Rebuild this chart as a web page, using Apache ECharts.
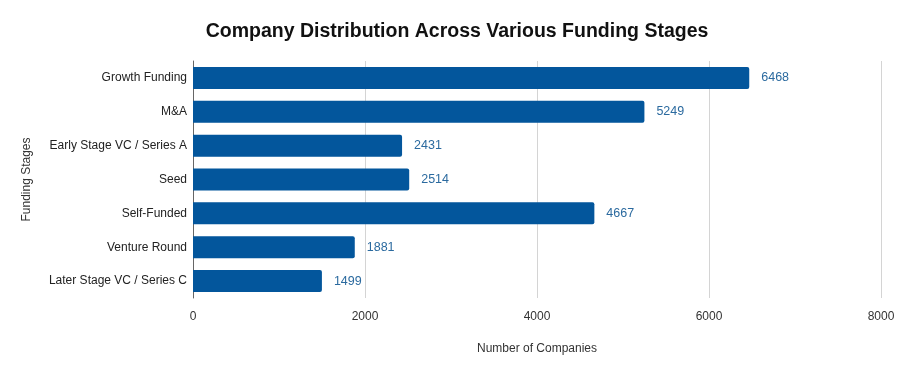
<!DOCTYPE html>
<html><head><meta charset="utf-8">
<script src="https://cdn.jsdelivr.net/npm/echarts@6/dist/echarts.min.js"></script>
<style>html,body{margin:0;padding:0;background:#fff}#c{width:900px;height:374px}</style>
</head><body><div id="c"></div>
<script>
const categories = ["Growth Funding","M&A","Early Stage VC / Series A","Seed","Self-Funded","Venture Round","Later Stage VC / Series C"];
const values = [6468,5249,2431,2514,4667,1881,1499];
const xTicks = [0,2000,4000,6000,8000];

const chart = echarts.init(document.getElementById('c'));
chart.setOption({
  animation:false,
  title:{text:"Company Distribution Across Various Funding Stages",left:452,top:17,textAlign:'center',
    textStyle:{fontFamily:"Liberation Sans",fontSize:19.5,fontWeight:'bold',color:'#111'}},
  grid:{left:193,right:19,top:61,bottom:76,containLabel:false},
  xAxis:{type:'value',min:xTicks[0],max:xTicks[xTicks.length-1],interval:2000,
    name:"Number of Companies",nameLocation:'middle',nameGap:45,
    nameTextStyle:{fontFamily:"Liberation Sans",fontSize:12,color:'#333'},
    axisLine:{show:false},axisTick:{show:false},
    axisLabel:{fontFamily:"Liberation Sans",fontSize:12,color:'#333',margin:13,formatter:function(v){return String(v);}},
    splitLine:{lineStyle:{color:'#d4d4d4'}}},
  yAxis:{type:'category',data:categories,inverse:true,
    name:"Funding Stages",nameLocation:'middle',nameGap:160,nameRotate:90,
    nameTextStyle:{fontFamily:"Liberation Sans",fontSize:12,color:'#333'},
    axisLine:{lineStyle:{color:'#666'}},axisTick:{show:false},
    axisLabel:{fontFamily:"Liberation Sans",fontSize:12,color:'#222',margin:6}},
  series:[{type:'bar',data:values,barWidth:'65%',
    itemStyle:{color:'#03569c',borderRadius:[0,2,2,0]},
    label:{show:true,position:'right',distance:12,fontFamily:"Liberation Sans",fontSize:12.5,color:'#2b6a9f'}}]
});
</script></body></html>
